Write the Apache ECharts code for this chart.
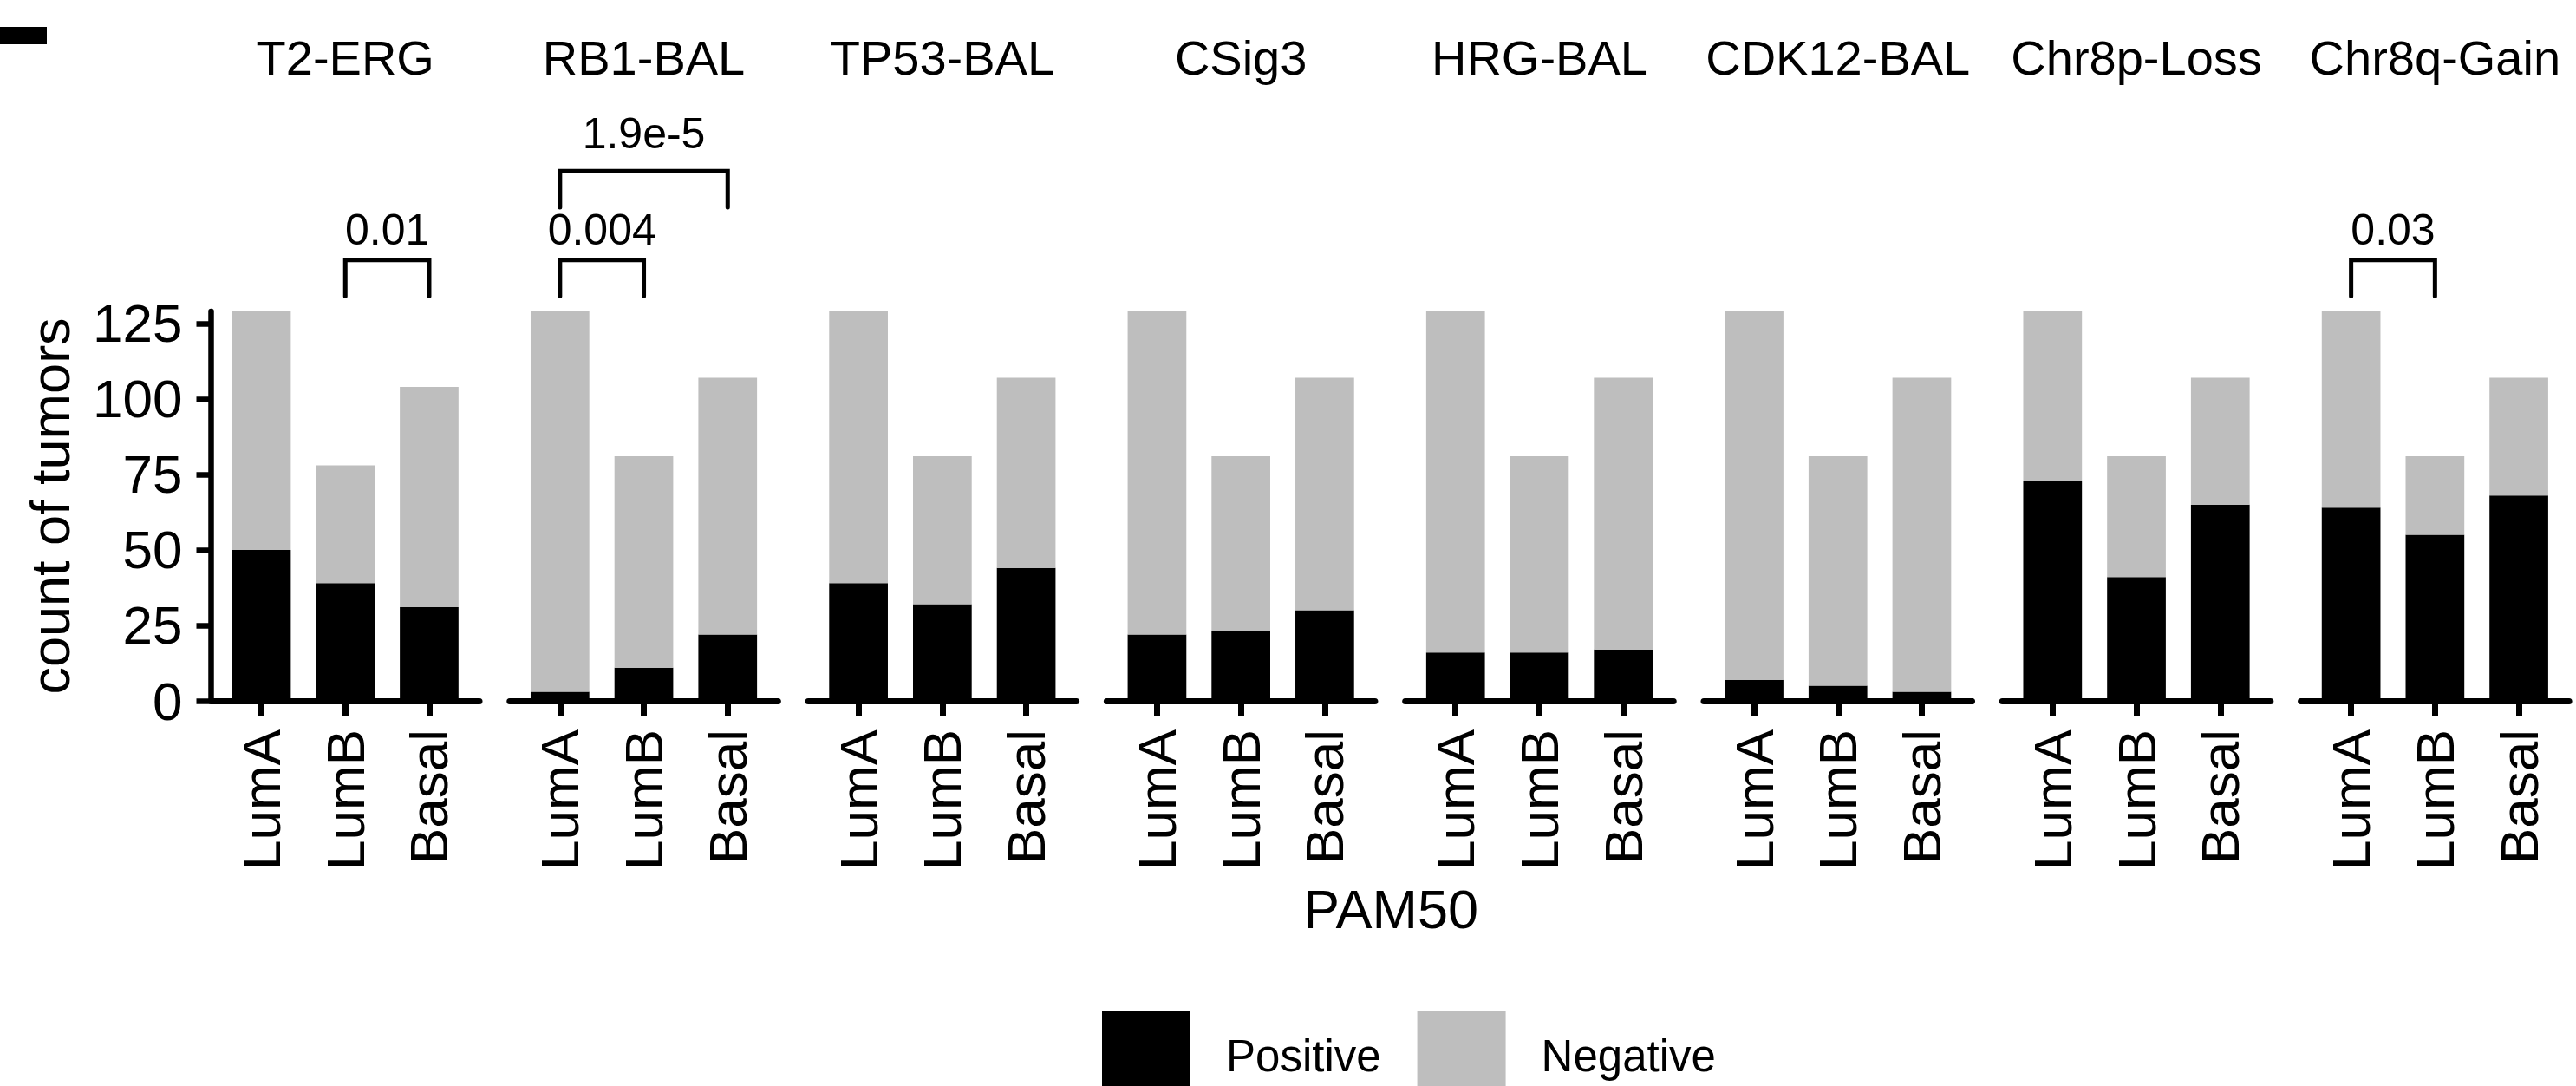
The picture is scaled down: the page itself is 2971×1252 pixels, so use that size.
<!DOCTYPE html>
<html><head><meta charset="utf-8">
<script src="https://cdn.jsdelivr.net/npm/echarts@6/dist/echarts.min.js"></script>
<style>html,body{margin:0;padding:0;background:#fff}#c{width:2971px;height:1252px}</style>
</head><body><div id="c"></div>
<script>
// ---- data ----
const panels = ['T2-ERG','RB1-BAL','TP53-BAL','CSig3','HRG-BAL','CDK12-BAL','Chr8p-Loss','Chr8q-Gain'];
const subtypes = ['LumA','LumB','Basal'];
const positive = [[50,39,31],[3,11,22],[39,32,44],[22,23,30],[16,16,17],[7,5,3],[73,41,65],[64,55,68]];
const negative = [[79,39,73],[126,70,85],[90,49,63],[107,58,77],[113,65,90],[122,76,104],[56,40,42],[65,26,39]];
const yTicks = [0,25,50,75,100,125];
// significance annotations
const annPanel = ['T2-ERG','RB1-BAL','RB1-BAL','Chr8q-Gain'];
const annFrom = ['LumB','LumA','LumA','LumA'];
const annTo = ['Basal','LumB','Basal','LumB'];
const annText = ['0.01','0.004','1.9e-5','0.03'];
const annY = [146,146,175.5,146];
const annTextY = [156,156,188,156];

// ---- layout ----
const FONT = 'Liberation Sans, Arial, Helvetica, sans-serif';
const P_LEFT = 243.5, P_STEP = 344.3, P_W = 309.5, P_TOP = 359, P_H = 449;
const BAND = P_W / 3.2;           // discrete scale: 3 groups + 0.6 expansion each side
const Y_MAX = 129, TIP = 12;

const grid = [], xAxis = [], yAxis = [], series = [], graphic = [];
panels.forEach((name, i) => {
  const left = P_LEFT + P_STEP * i;
  const gBars = 2 * i, gFrame = 2 * i + 1;
  // grid holding the bars (3 category bands)
  grid.push({left: left + 0.1 * BAND, top: P_TOP, width: 3 * BAND, height: P_H, containLabel: false, outerBoundsMode: 'none'});
  // grid holding the full-width panel frame (axis lines) and annotations
  grid.push({left: left, top: P_TOP, width: P_W, height: P_H, containLabel: false, outerBoundsMode: 'none'});

  xAxis.push({
    gridIndex: gBars, type: 'category', data: subtypes, boundaryGap: true,
    axisLine: {show: false},
    axisTick: {show: true, alignWithLabel: true, length: 18, lineStyle: {color: '#000', width: 7}},
    axisLabel: {show: true, interval: 0, rotate: 90, margin: 33, fontSize: 62, color: '#000', fontFamily: FONT},
    splitLine: {show: false}
  });
  yAxis.push({gridIndex: gBars, type: 'value', min: 0, max: Y_MAX, show: false});

  xAxis.push({
    gridIndex: gFrame, type: 'value', min: 0.4, max: 3.6,
    axisLine: {show: true, onZero: false, lineStyle: {color: '#000', width: 7}},
    axisTick: {show: false}, axisLabel: {show: false}, splitLine: {show: false}
  });
  yAxis.push({
    gridIndex: gFrame, type: 'value', min: 0, max: Y_MAX, show: i === 0,
    axisLine: {show: true, onZero: false, lineStyle: {color: '#000', width: 6.5}},
    axisTick: {show: true, customValues: yTicks, length: 17, lineStyle: {color: '#000', width: 6.5}},
    axisLabel: {show: true, customValues: yTicks, margin: 33, fontSize: 62, color: '#000', fontFamily: FONT},
    splitLine: {show: false}
  });

  series.push({
    name: 'Positive', type: 'bar', xAxisIndex: gBars, yAxisIndex: gBars, stack: 's' + i, barWidth: '70%',
    itemStyle: {color: '#000000'}, silent: true, data: positive[i]
  });
  series.push({
    name: 'Negative', type: 'bar', xAxisIndex: gBars, yAxisIndex: gBars, stack: 's' + i, barWidth: '70%',
    itemStyle: {color: '#BEBEBE'}, silent: true, data: negative[i]
  });

  // strip label
  graphic.push({type: 'text', x: left + P_W / 2, y: 66,
    style: {text: name, fontSize: 56, fontFamily: FONT, fill: '#000', align: 'center', verticalAlign: 'middle'}});

  // significance brackets
  const items = [];
  annPanel.forEach((p, a) => {
    if (p === name) items.push({value: [subtypes.indexOf(annFrom[a]) + 1, subtypes.indexOf(annTo[a]) + 1, annY[a], annTextY[a]], label: annText[a]});
  });
  if (items.length) {
    series.push({
      type: 'custom', xAxisIndex: gFrame, yAxisIndex: gFrame, clip: false, silent: true,
      encode: {x: [0, 1], y: [2, 3]},
      data: items.map(d => d.value),
      renderItem: function (params, api) {
        const x1 = api.value(0), x2 = api.value(1), y = api.value(2), ty = api.value(3);
        const a = api.coord([x1, y - TIP]), b = api.coord([x1, y]), c = api.coord([x2, y]), d = api.coord([x2, y - TIP]);
        const t = api.coord([(x1 + x2) / 2, ty]);
        return {type: 'group', children: [
          {type: 'polyline', shape: {points: [a, b, c, d]}, style: {stroke: '#000', lineWidth: 5, fill: null, lineJoin: 'miter', lineCap: 'round'}},
          {type: 'text', x: t[0], y: t[1], style: {text: items[params.dataIndex].label, fontSize: 50, fontFamily: FONT, fill: '#000', align: 'center', verticalAlign: 'middle'}}
        ]};
      }
    });
  }
});

// axis titles & small mark at top-left
graphic.push({type: 'text', x: 58, y: 583.5, rotation: Math.PI / 2,
  style: {text: 'count of tumors', fontSize: 63, fontFamily: FONT, fill: '#000', align: 'center', verticalAlign: 'middle'}});
graphic.push({type: 'text', x: 1604, y: 1048,
  style: {text: 'PAM50', fontSize: 63, fontFamily: FONT, fill: '#000', align: 'center', verticalAlign: 'middle'}});
graphic.push({type: 'rect', x: 0, y: 31, shape: {width: 54, height: 20}, style: {fill: '#000'}});

const chart = echarts.init(document.getElementById('c'), null, {renderer: 'svg'});
chart.setOption({
  animation: false,
  backgroundColor: '#fff',
  textStyle: {fontFamily: FONT},
  legend: {
    data: ['Positive', 'Negative'], left: 1271, top: 1166, orient: 'horizontal', padding: 0,
    itemWidth: 102, itemHeight: 102, itemGap: 42, icon: 'rect', selectedMode: false,
    textStyle: {fontSize: 51, fontFamily: FONT, color: '#000', padding: [0, 0, 0, 36]}
  },
  grid, xAxis, yAxis, series, graphic
});
</script></body></html>
